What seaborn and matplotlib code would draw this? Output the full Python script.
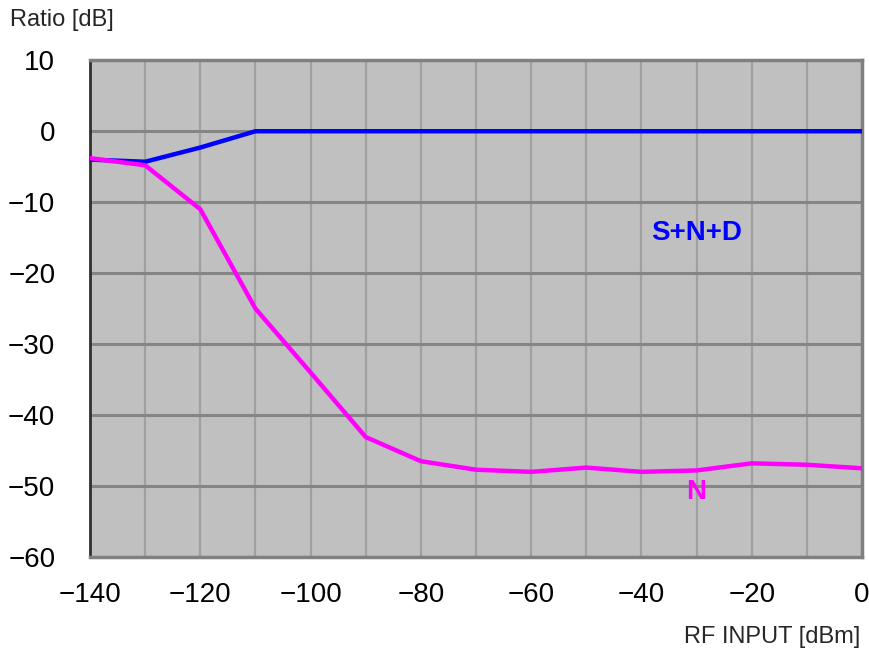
import matplotlib
matplotlib.use("Agg")
import matplotlib.pyplot as plt
import seaborn as sns
import pandas as pd

rf_input = [-140, -130, -120, -110, -100, -90, -80, -70, -60, -50, -40, -30, -20, -10, 0]
snd = [-4.0, -4.3, -2.3, 0, 0, 0, 0, 0, 0, 0, 0, 0, 0, 0, 0]
noise = [-3.8, -4.8, -11.0, -25.0, -34.0, -43.1, -46.5, -47.7, -48.0, -47.4, -48.0, -47.8, -46.8, -47.0, -47.5]
x_ticks = [-140, -120, -100, -80, -60, -40, -20, 0]
y_ticks = [10, 0, -10, -20, -30, -40, -50, -60]

sns.set_theme(style="white")
plt.rcParams['font.family'] = ['Liberation Sans', 'DejaVu Sans']

df = pd.DataFrame({"x": rf_input, "snd": snd, "n": noise})

fig = plt.figure(figsize=(8.69, 6.55), dpi=100)
ax = fig.add_axes([0.1036, 0.1496, 0.8884, 0.7584])
ax.set_facecolor("#c0c0c0")

# grid
for xv in range(-130, 0, 10):
    ax.axvline(xv, color="#a0a0a0", lw=1.6, zorder=1)
for yv in range(0, -60, -10):
    ax.axhline(yv, color="#858585", lw=2.2, zorder=1)

sns.lineplot(data=df, x="x", y="snd", ax=ax, color="#0000ff", lw=3.2, zorder=3)
sns.lineplot(data=df, x="x", y="n", ax=ax, color="#ff00ff", lw=3.2, zorder=3)

ax.text(-30, -14.4, "S+N+D", color="#0000ff", fontsize=20, fontweight="bold",
        ha="center", va="center")
ax.text(-30, -50.8, "N", color="#ff00ff", fontsize=20, fontweight="bold",
        ha="center", va="center")

ax.set_xlim(-140, 0)
ax.set_ylim(-60, 10)
ax.set_xticks(x_ticks)
ax.set_yticks(y_ticks)
ax.set_xticklabels([f"\u2212{abs(v)}" if v < 0 else str(v) for v in x_ticks])
ax.set_yticklabels([f"\u2212{abs(v)}" if v < 0 else str(v) for v in y_ticks])
ax.tick_params(axis="both", labelsize=20, length=0, colors="black")
ax.tick_params(axis="x", pad=18)
ax.tick_params(axis="y", pad=25)
ax.set_xlabel("")
ax.set_ylabel("")

ax.spines["left"].set_color("#303030")
ax.spines["left"].set_linewidth(2)
ax.spines["top"].set_color("#808080")
ax.spines["top"].set_linewidth(2.5)
ax.spines["bottom"].set_color("#808080")
ax.spines["bottom"].set_linewidth(2.5)
ax.spines["right"].set_color("#808080")
ax.spines["right"].set_linewidth(2.5)
for s in ax.spines.values():
    s.set_visible(True)

fig.text(10 / 869, 1 - 20 / 655, "Ratio [dB]", fontsize=17, ha="left", va="center")
fig.text(860 / 869, 1 - 637 / 655, "RF INPUT [dBm]", fontsize=17, ha="right", va="center")

fig.savefig("out.png", dpi=100)
